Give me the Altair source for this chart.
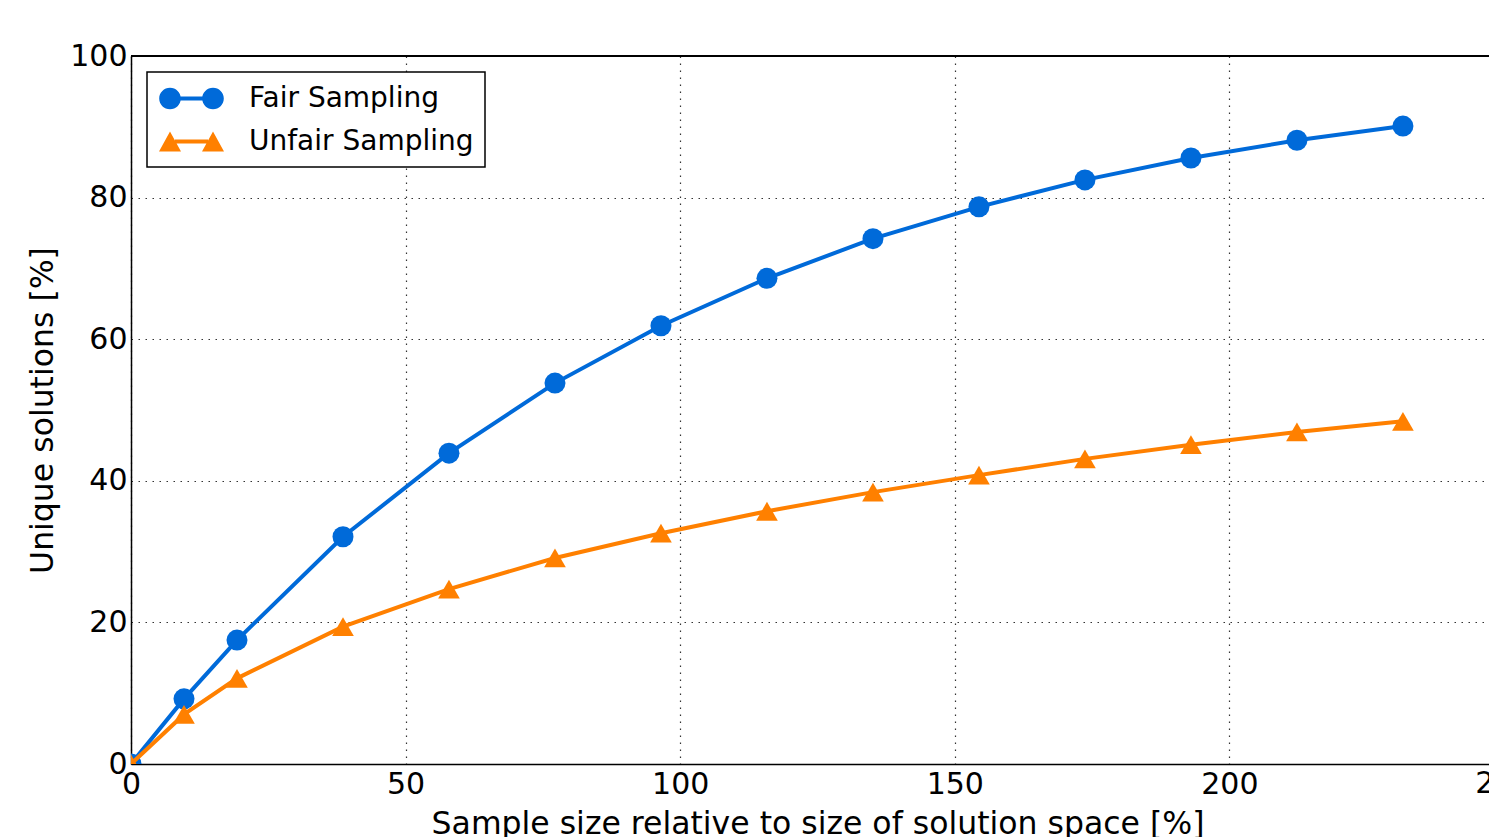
import altair as alt
import pandas as pd

# ---- data ----
series = ["Fair Sampling", "Unfair Sampling"]
x_values = [0, 9.65, 19.3, 38.6, 57.9, 77.2, 96.5, 115.8, 135.1, 154.4, 173.7, 193.0, 212.3, 231.6]
fair = [0, 9.2, 17.5, 32.1, 43.9, 53.8, 61.9, 68.6, 74.2, 78.7, 82.5, 85.6, 88.1, 90.1]
unfair = [0, 7.0, 12.1, 19.4, 24.7, 29.1, 32.6, 35.7, 38.4, 40.8, 43.1, 45.1, 46.9, 48.4]
x_ticks = [0, 50, 100, 150, 200, 250]
y_ticks = [0, 20, 40, 60, 80, 100]
x_max = 250          # full axis range of the original figure
x_visible = 247.27   # part of that range that lies inside the cropped picture

BLUE = "#006ad9"
ORANGE = "#ff8000"
FONT = "DejaVu Sans"

PLOT_W = 1358
PLOT_H = 708
FULL_W = PLOT_W * x_max / x_visible  # width the full 0..250 axis would take

df = pd.DataFrame(
    {
        "x": x_values + x_values,
        "y": fair + unfair,
        "series": [series[0]] * len(x_values) + [series[1]] * len(x_values),
    }
)
edge_ticks = pd.DataFrame({"x": [t for t in x_ticks if t > x_visible]})
edge_ticks["label"] = edge_ticks["x"].map(lambda v: f"{v:g}")

# ---- legend glyphs (line with a marker at each end), in px / S ----
S = 15.5


def f(v):
    return f"{v / S:.4f}"


def circle_path(cx, r):
    k = 0.5523 * r
    return (
        f"M{f(cx - r)},0 C{f(cx - r)},{f(-k)} {f(cx - k)},{f(-r)} {f(cx)},{f(-r)} "
        f"C{f(cx + k)},{f(-r)} {f(cx + r)},{f(-k)} {f(cx + r)},0 "
        f"C{f(cx + r)},{f(k)} {f(cx + k)},{f(r)} {f(cx)},{f(r)} "
        f"C{f(cx - k)},{f(r)} {f(cx - r)},{f(k)} {f(cx - r)},0 Z"
    )


def tri_path(cx, hw, hh):
    return f"M{f(cx - hw)},{f(hh)} L{f(cx)},{f(-hh)} L{f(cx + hw)},{f(hh)} Z"


def rect_path(a, b):
    return f"M{f(-a)},{f(-b)} L{f(a)},{f(-b)} L{f(a)},{f(b)} L{f(-a)},{f(b)} Z"


sym_fair = circle_path(-21.5, 10.8) + " " + circle_path(21.5, 10.8) + " " + rect_path(11.2, 2.0)
sym_unfair = tri_path(-21.5, 11, 10) + " " + tri_path(21.5, 11, 10) + " " + rect_path(16.5, 2.0)

x_scale = alt.Scale(domain=[0, x_visible], nice=False, zero=False)
x_enc = alt.X(
    "x:Q",
    scale=x_scale,
    axis=alt.Axis(values=x_ticks, title="Sample size relative to size of solution space [%]",
                  labelPadding=5, titlePadding=9, titleX=FULL_W / 2, titleAlign="center"),
)
y_enc = alt.Y(
    "y:Q",
    scale=alt.Scale(domain=[0, 100], nice=False),
    axis=alt.Axis(values=y_ticks, title="Unique solutions [%]", labelPadding=4, titlePadding=10),
)

base = alt.Chart(df)

top_frame = alt.Chart(df).mark_rule(color="black", strokeWidth=1.5).encode(y=alt.value(0))

line_fair = base.transform_filter(alt.datum.series == series[0]).mark_line(
    color=BLUE, strokeWidth=4, clip=True
).encode(x=x_enc, y=y_enc)
pts_fair = base.transform_filter(alt.datum.series == series[0]).mark_point(
    shape="circle", filled=True, size=441, color=BLUE, opacity=1, clip=True
).encode(x=x_enc, y=y_enc)
line_unfair = base.transform_filter(alt.datum.series == series[1]).mark_line(
    color=ORANGE, strokeWidth=4, clip=True
).encode(x=x_enc, y=y_enc)
pts_unfair = base.transform_filter(alt.datum.series == series[1]).mark_point(
    shape="triangle-up", filled=True, size=470, color=ORANGE, opacity=1, clip=True
).encode(x=x_enc, y=y_enc)

edge_label = alt.Chart(edge_ticks).mark_text(
    font=FONT, fontSize=30, color="black", baseline="top", align="center", dy=5
).encode(x=alt.X("x:Q", scale=x_scale), y=alt.value(PLOT_H), text="label:N")

legend_layer = base.mark_point(filled=True, opacity=0, clip=True).encode(
    x=x_enc,
    y=y_enc,
    color=alt.Color("series:N", scale=alt.Scale(domain=series, range=[BLUE, ORANGE]),
                    legend=alt.Legend(title=None)),
    shape=alt.Shape("series:N", scale=alt.Scale(domain=series, range=[sym_fair, sym_unfair]),
                    legend=alt.Legend(title=None)),
)

chart = (
    alt.layer(top_frame, line_fair, pts_fair, line_unfair, pts_unfair, edge_label, legend_layer)
    .properties(
        width=PLOT_W,
        height=PLOT_H,
        autosize=alt.AutoSizeParams(type="none"),
        padding={"left": 123, "top": 48, "right": 0, "bottom": 73},
        background="white",
    )
    .configure_view(stroke=None)
    .configure_axis(
        domainColor="black",
        domainWidth=1.5,
        grid=True,
        gridColor="#333333",
        gridDash=[1.5, 5.5],
        gridWidth=1.2,
        ticks=False,
        labelFont=FONT,
        labelFontSize=30,
        labelColor="black",
        labelFlush=False,
        labelOverlap=False,
        titleFont=FONT,
        titleFontSize=31.5,
        titleFontWeight="normal",
        titleColor="black",
    )
    .configure_legend(
        orient="none",
        legendX=16,
        legendY=16,
        labelFont=FONT,
        labelFontSize=28,
        labelColor="black",
        labelLimit=500,
        labelOffset=42,
        symbolOffset=18,
        symbolSize=S * S * 4,
        symbolStrokeWidth=0,
        symbolOpacity=1,
        rowPadding=13,
        padding=11,
        fillColor="white",
        strokeColor="black",
        strokeWidth=1.5,
        cornerRadius=0,
    )
)

chart.save("out.html", embed_options={"renderer": "svg", "actions": False})
